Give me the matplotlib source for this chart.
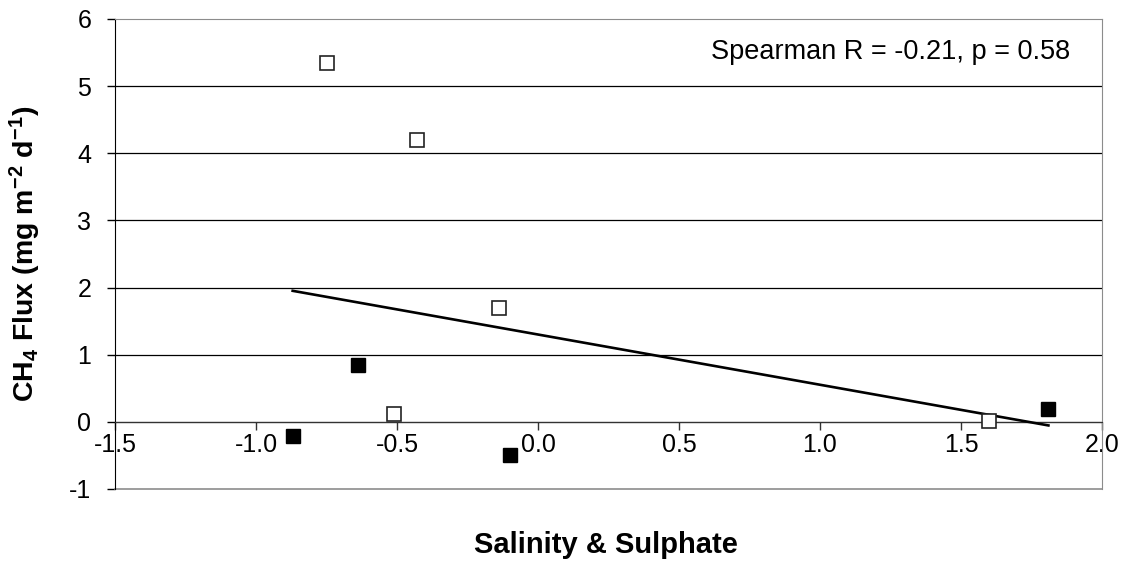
import numpy as np
import matplotlib
matplotlib.use('Agg')
import matplotlib.pyplot as plt

plt.rcParams['font.family'] = ['Liberation Sans', 'DejaVu Sans']
plt.rcParams['axes.unicode_minus'] = False
plt.rcParams['mathtext.fontset'] = 'custom'
plt.rcParams['mathtext.rm'] = 'Liberation Sans:bold'
plt.rcParams['mathtext.default'] = 'rm'

# site scores on the salinity/sulphate axis vs. methane flux
open_x = [-0.75, -0.43, -0.14, -0.51, 1.60]
open_y = [5.35, 4.20, 1.70, 0.12, 0.02]
filled_x = [-0.87, -0.64, -0.10, 1.81]
filled_y = [-0.21, 0.85, -0.49, 0.19]

x_ticks = [-1.5, -1.0, -0.5, 0.0, 0.5, 1.0, 1.5, 2.0]
y_ticks = [-1, 0, 1, 2, 3, 4, 5, 6]
stat_text = 'Spearman R = -0.21, p = 0.58'

fig = plt.figure(figsize=(11.26, 5.61), dpi=100)
ax = fig.add_axes([115 / 1126, 72 / 561, 987 / 1126, 470 / 561])

# least squares trend through all points
all_x = np.array(open_x + filled_x)
all_y = np.array(open_y + filled_y)
slope, intercept = np.polyfit(all_x, all_y, 1)
line_x = np.array([all_x.min(), all_x.max()])
ax.plot(line_x, slope * line_x + intercept, color='black', lw=1.9, zorder=3)

ax.plot(open_x, open_y, ls='none', marker='s', ms=10, mfc='white',
        mec='#222222', mew=1.2, zorder=4)
ax.plot(filled_x, filled_y, ls='none', marker='s', ms=10, mfc='black',
        mec='black', mew=1.0, zorder=4)

ax.set_xlim(-1.5, 2.0)
ax.set_ylim(-1, 6)
ax.set_xticks(x_ticks)
ax.set_xticklabels([f'{v:.1f}' for v in x_ticks])
ax.set_yticks(y_ticks)

ax.grid(axis='y', color='black', lw=0.9)
gl = ax.get_ygridlines()
gl[0].set_visible(False)
gl[-1].set_visible(False)
ax.set_axisbelow(True)

ax.spines['bottom'].set_position(('data', 0))
ax.spines['bottom'].set_color('#333333')
ax.spines['left'].set_color('black')
for s in ['top', 'right']:
    ax.spines[s].set_color('#8c8c8c')
ax.plot([0, 1], [0, 0], transform=ax.transAxes, color='#8c8c8c', lw=1.2,
        clip_on=False)

ax.tick_params(axis='x', direction='out', length=6, width=1, pad=2,
               labelsize=18, color='#333333')
ax.tick_params(axis='y', direction='out', length=6, width=1, pad=11,
               labelsize=18)

ax.text(0.968, 0.93, stat_text, transform=ax.transAxes, ha='right',
        va='center', fontsize=19.5)

ax.set_xlabel('Salinity & Sulphate', fontsize=21, fontweight='bold')
ax.xaxis.set_label_coords(0.497, -0.09)
ax.set_ylabel('CH$_4$ Flux (mg m$^{-2}$ d$^{-1}$)', fontsize=20.5,
              fontweight='bold')
ax.yaxis.set_label_coords(-0.073, 0.5)

fig.savefig('out.png', dpi=100)
